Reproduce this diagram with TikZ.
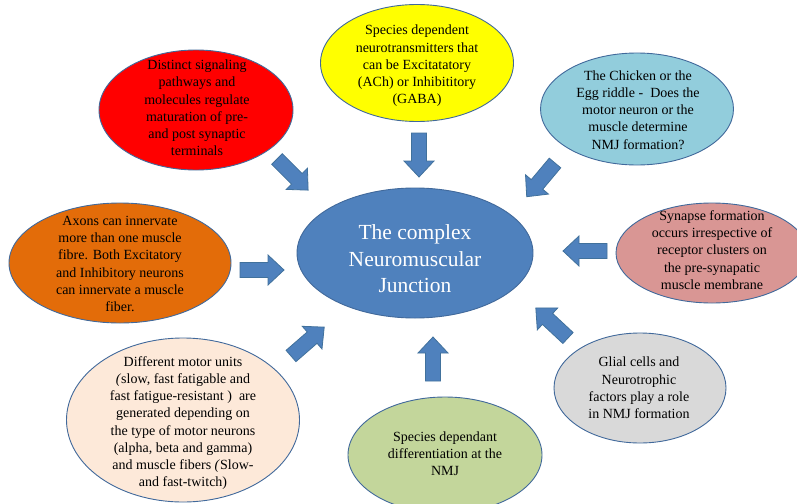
\documentclass[tikz,border=0pt]{standalone}
\usepackage{fontspec}
\setmainfont{Liberation Serif}
\usetikzlibrary{shapes.geometric}
\definecolor{edgeblue}{HTML}{41699B}
\definecolor{arrowblue}{HTML}{4F81BD}
\definecolor{arrowedge}{HTML}{41719C}
\definecolor{cred}{HTML}{FF0000}
\definecolor{cyellow}{HTML}{FFFF00}
\definecolor{clightblue}{HTML}{92CDDC}
\definecolor{ccenter}{HTML}{4F81BD}
\definecolor{corange}{HTML}{E36C09}
\definecolor{cpink}{HTML}{D99694}
\definecolor{cpeach}{HTML}{FDE9D9}
\definecolor{cgreen}{HTML}{C3D69B}
\definecolor{cgray}{HTML}{D9D9D9}
\begin{document}
\begin{tikzpicture}[x=1pt,y=-1pt,
  bubble/.style={ellipse, draw=edgeblue, line width=0.9pt, inner sep=0pt},
  txt/.style={align=center, font=\fontsize{14}{17.2}\selectfont, text=black, inner sep=0pt},
  bigtxt/.style={align=center, font=\fontsize{21.5}{26.5}\selectfont, text=white, inner sep=0pt},
  blockarrow/.pic={\draw[fill=arrowblue, draw=arrowedge, line width=0.8pt, line join=miter]
     (0,-7.5) -- (28,-7.5) -- (28,-15) -- (44,0) -- (28,15) -- (28,7.5) -- (0,7.5) -- cycle;}]
\useasboundingbox (0,0) rectangle (797,503);
\clip (0,0) rectangle (797,503);
\fill[white] (0,0) rectangle (797,503);

% ellipses
\node[bubble, fill=cred, minimum width=194, minimum height=120] (red) at (196,110) {};
\node[bubble, fill=cyellow, minimum width=193, minimum height=117] (yellow) at (417,63) {};
\node[bubble, fill=clightblue, minimum width=193, minimum height=112] (lblue) at (637,109) {};
\node[bubble, fill=ccenter, minimum width=236, minimum height=130] (center) at (415,253) {};
\node[bubble, fill=corange, minimum width=222, minimum height=120] (orange) at (120,263) {};
\node[bubble, fill=cpink, minimum width=192, minimum height=100] (pink) at (712,253) {};
\node[bubble, fill=cpeach, minimum width=233, minimum height=164] (peach) at (183,420) {};
\node[bubble, fill=cgreen, minimum width=194, minimum height=116] (green) at (445,455) {};
\node[bubble, fill=cgray, minimum width=172, minimum height=110] (gray) at (640,388) {};

% texts
\node[txt] (redt) at (197,108) {Distinct signaling\\pathways and\\molecules regulate\\maturation of pre-\\and post synaptic\\terminals};
\node[txt] (yellowt) at (417,66) {Species dependent\\neurotransmitters that\\can be Excitatatory\\(ACh) or Inhibititory\\(GABA)};
\node[txt] (lbluet) at (638,110) {The Chicken or the\\Egg riddle -~ Does the\\motor neuron or the\\muscle determine\\NMJ formation?};
\node[bigtxt] (centert) at (415,259) {The complex\\Neuromuscular\\Junction};
\node[txt] (oranget) at (120,264) {Axons can innervate\\more than one muscle\\fibre. Both Excitatory\\and Inhibitory neurons\\can innervate a muscle\\fiber.};
\node[txt] (pinkt) at (712,250) {Synapse formation\\occurs irrespective of\\receptor clusters on\\the pre-synapatic\\muscle membrane};
\node[txt] (peacht) at (183,423) {Different motor units\\\textit{(}slow, fast fatigable and\\fast fatigue-resistant )~ are\\generated depending on\\the type of motor neurons\\(alpha, beta and gamma)\\and muscle fibers \textit{(}Slow-\\and fast-twitch)};
\node[txt] (greent) at (445,454) {Species dependant\\differentiation at the\\NMJ};
\node[txt] (grayt) at (639,388) {Glial cells and\\Neurotrophic\\factors play a role\\in NMJ formation};

% block arrows
\pic[rotate=-45] (a1) at (277,159) {blockarrow};
\pic[rotate=-90] (a2) at (419,133) {blockarrow};
\pic[rotate=-130] (a3) at (555,163) {blockarrow};
\pic[rotate=0] (a4) at (240,270) {blockarrow};
\pic[rotate=180] (a5) at (607,251) {blockarrow};
\pic[rotate=41] (a6) at (291,356) {blockarrow};
\pic[rotate=90] (a7) at (433,381) {blockarrow};
\pic[rotate=137] (a8) at (568,338) {blockarrow};
\end{tikzpicture}
\end{document}
